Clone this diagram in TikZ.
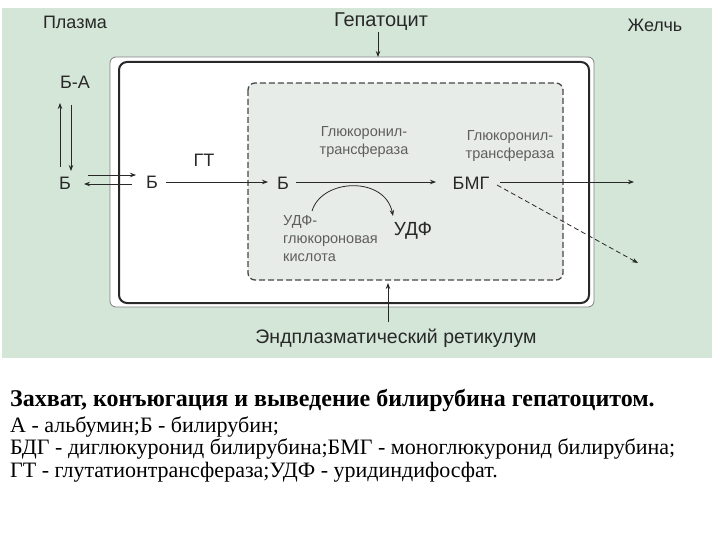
\documentclass[tikz,border=0pt]{standalone}
\usepackage{fontspec}
\setmainfont{Liberation Serif}
\setsansfont{Liberation Sans}
\usetikzlibrary{arrows.meta}
\definecolor{bggreen}{RGB}{212,230,216}
\definecolor{ergrey}{RGB}{232,236,232}
\definecolor{ink}{RGB}{40,40,40}
\tikzset{
  lab/.style={font=\sffamily\fontsize{18}{20}\selectfont, text=ink, inner sep=0pt},
  big/.style={font=\sffamily\fontsize{19}{21}\selectfont, text=ink, inner sep=0pt},
  small/.style={font=\sffamily\fontsize{14.5}{18}\selectfont, text=ink!75, inner sep=0pt, align=center},
  arr/.style={draw=ink, line width=0.8pt, -{Stealth[length=6pt,width=4.5pt]}},
  captext/.style={font=\fontsize{22}{24}\selectfont, anchor=west, inner sep=0pt, text=black},
}
\begin{document}
\begin{tikzpicture}[x=1pt,y=-1pt]
\useasboundingbox (0,0) rectangle (720,540);
\fill[white] (0,0) rectangle (720,540);
% background
\fill[bggreen] (2,8) rectangle (712,358);
% cell frames
\draw[draw=gray, line width=0.8pt, fill=white, rounded corners=6pt] (110,57) rectangle (594,307);
\draw[draw=ink, line width=2pt, rounded corners=8pt] (119,62) rectangle (589,303);
% ER
\draw[draw=ink!85, line width=1.3pt, dashed, dash pattern=on 6pt off 3pt, fill=ergrey, rounded corners=7pt] (248,83) rectangle (563,280);
\coordinate (erbottom) at (388,283);

% top labels
\node[lab] (plasma) at (75,22) {Плазма};
\node[lab, font=\sffamily\fontsize{20}{22}\selectfont] (hep) at (381,22) {Гепатоцит};
\node[lab] (bile) at (655,25) {Желчь};
\coordinate (celltop) at (378,57);
\draw[arr] (378,32) -- (celltop);

% plasma side
\node[lab] (ba) at (75,82) {Б-А};
\node[lab] (b1) at (65,183) {Б};
\coordinate (u1) at (60,167); \coordinate (u2) at (60,103);
\coordinate (d1) at (71,105); \coordinate (d2) at (71,171);
\draw[arr] (u1) -- (u2);
\draw[arr] (d1) -- (d2);

% cell side
\node[lab] (b2) at (152,182) {Б};
\coordinate (r1) at (88,175); \coordinate (r2) at (136,175);
\coordinate (l1) at (132,184); \coordinate (l2) at (84,184);
\draw[arr] (r1) -- (r2);
\draw[arr] (l1) -- (l2);
\node[lab] (gt) at (204,160) {ГТ};
\node[lab] (b3) at (283,183) {Б};
\draw[arr] (166,182) -- (268,182);
\node[lab] (bmg) at (471,183) {БМГ};
\draw[arr] (296,182) -- (436,182);
\coordinate (bileend) at (634,182);
\draw[arr] (500,182) -- (bileend);
\coordinate (dashend) at (638,263);
\draw[arr, dashed, dash pattern=on 5pt off 3pt] (497,185) -- (dashend);

% enzymes
\node[small] (enz1) at (364,142) {Глюкоронил-\\трансфераза};
\node[small] (enz2) at (510,146) {Глюкоронил-\\трансфераза};

% UDP
\node[small, align=left, anchor=north west] (udpga) at (283,215) {УДФ-\\глюкороновая\\кислота};
\node[big] (udf) at (413,231) {УДФ};
\draw[arr] (312,211) .. controls (322,178) and (385,176) .. (393,216);

% ER label
\node[lab, font=\sffamily\fontsize{19.5}{22}\selectfont] (er) at (396,338) {Эндплазматический ретикулум};
\draw[arr] (388,322) -- (erbottom);

% caption
\node[captext, font=\bfseries\fontsize{24}{26}\selectfont] (c1) at (10,400) {Захват, конъюгация и выведение билирубина гепатоцитом.};
\node[captext] (c2) at (10,427) {А - альбумин;Б - билирубин;};
\node[captext] (c3) at (10,449) {БДГ - диглюкуронид билирубина;БМГ - моноглюкуронид билирубина;};
\node[captext] (c4) at (10,472) {ГТ - глутатионтрансфераза;УДФ - уридиндифосфат.};
\end{tikzpicture}
\end{document}
